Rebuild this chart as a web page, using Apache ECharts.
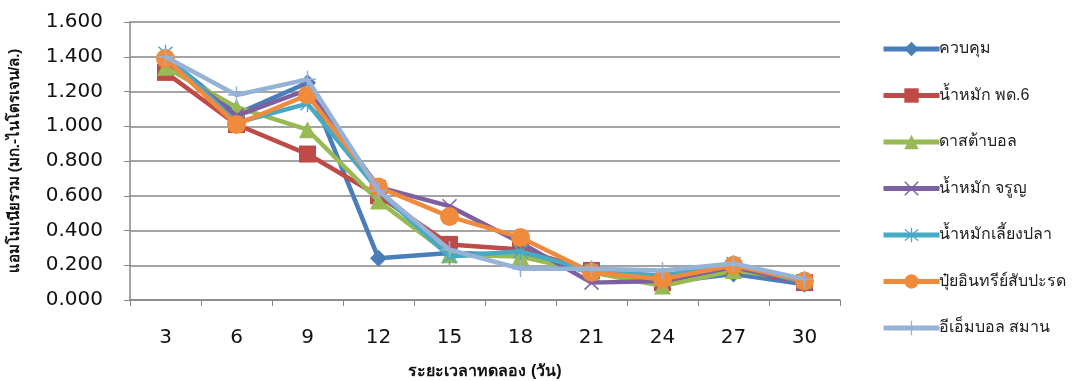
<!DOCTYPE html>
<html>
<head>
<meta charset="utf-8">
<script src="https://cdn.jsdelivr.net/npm/echarts@6/dist/echarts.min.js"></script>
<style>
  html, body { margin: 0; padding: 0; background: #fff; }
  #chart { width: 1073px; height: 381px; }
</style>
</head>
<body>
<div id="chart"></div>
<script>
// Days of the trial
const days = ['3', '6', '9', '12', '15', '18', '21', '24', '27', '30'];

// Total ammonia (mg N/L) per treatment
const control      = [1.40, 1.07, 1.25, 0.24, 0.27, 0.26, 0.16, 0.10, 0.15, 0.09];
const ldd6         = [1.31, 1.01, 0.84, 0.60, 0.32, 0.29, 0.17, 0.10, 0.18, 0.10];
const dastaball    = [1.34, 1.11, 0.98, 0.57, 0.26, 0.25, 0.16, 0.08, 0.17, 0.12];
const jaroon       = [1.38, 1.06, 1.21, 0.65, 0.54, 0.33, 0.10, 0.11, 0.19, 0.10];
const fishFerment  = [1.42, 1.02, 1.13, 0.63, 0.25, 0.28, 0.17, 0.14, 0.21, 0.10];
const pineapple    = [1.39, 1.01, 1.18, 0.65, 0.48, 0.36, 0.16, 0.12, 0.20, 0.11];
const emBall       = [1.40, 1.18, 1.27, 0.63, 0.29, 0.18, 0.18, 0.17, 0.21, 0.12];

const seriesNames = ['ควบคุม', 'น้ำหมัก พด.6', 'ดาสต้าบอล', 'น้ำหมัก จรูญ', 'น้ำหมักเลี้ยงปลา', 'ปุ๋ยอินทรีย์สับปะรด', 'อีเอ็มบอล สมาน'];
const yTicks = ['0.000', '0.200', '0.400', '0.600', '0.800', '1.000', '1.200', '1.400', '1.600'];

const colors = ['#4A7EBB', '#BE4B48', '#98B954', '#7D60A0', '#46AAC5', '#F08A3C', '#95B3D7'];

// Stroke-like marker shapes built from thin filled bars
const crossPath = 'path://M-10,-8.6 L-8.6,-10 L10,8.6 L8.6,10Z M10,-8.6 L8.6,-10 L-10,8.6 L-8.6,10Z';
const starPath  = 'path://M-10,-8.6 L-8.6,-10 L10,8.6 L8.6,10Z M10,-8.6 L8.6,-10 L-10,8.6 L-8.6,10Z M-0.9,-12 L0.9,-12 L0.9,12 L-0.9,12Z';
const plusPath  = 'path://M-0.9,-10 L0.9,-10 L0.9,10 L-0.9,10Z M-10,-0.9 L10,-0.9 L10,0.9 L-10,0.9Z';

const markers = [
  { symbol: 'diamond',  size: 17 },
  { symbol: 'rect',     size: 17 },
  { symbol: 'triangle', size: 17 },
  { symbol: crossPath,  size: 15 },
  { symbol: starPath,   size: [15, 17] },
  { symbol: 'circle',   size: 19 },
  { symbol: plusPath,   size: 17 }
];

const values = [control, ldd6, dastaball, jaroon, fishFerment, pineapple, emBall];

const chart = echarts.init(document.getElementById('chart'), null, { renderer: 'canvas' });

const series = values.map((v, i) => ({
  name: seriesNames[i],
  type: 'line',
  data: v,
  symbol: markers[i].symbol,
  symbolSize: markers[i].size,
  showAllSymbol: true,
  lineStyle: { color: colors[i], width: 4.5 },
  itemStyle: { color: colors[i] },
  emphasis: { disabled: true },
  animation: false,
  z: 2 + i
}));

const numFont = '"DejaVu Sans", sans-serif';

chart.setOption({
  animation: false,
  color: colors,
  grid: { left: 130, right: 233, top: 22, bottom: 81, outerBoundsMode: 'none', containLabel: false },
  legend: {
    orient: 'vertical',
    left: 876,
    top: 36,
    itemWidth: 56,
    itemHeight: 18,
    itemGap: 30.5,
    lineStyle: { width: 5 },
    textStyle: { fontSize: 16, color: '#222', fontFamily: 'sans-serif', padding: [0, 0, 0, -6] },
    data: seriesNames
  },
  xAxis: {
    type: 'category',
    data: days,
    boundaryGap: true,
    name: 'ระยะเวลาทดลอง (วัน)',
    nameLocation: 'middle',
    nameGap: 64,
    nameTextStyle: { fontSize: 16, fontWeight: 'bold', color: '#111' },
    axisLine: { lineStyle: { color: '#868686', width: 1.5 } },
    axisTick: { show: true, alignWithLabel: false, length: 6, lineStyle: { color: '#868686' } },
    axisLabel: { fontSize: 20, color: '#111', margin: 28, fontFamily: numFont }
  },
  yAxis: {
    type: 'value',
    min: 0,
    max: 1.6,
    interval: 0.2,
    name: 'แอมโมเนียรวม (มก.-ไนโตรเจน/ล.)',
    nameLocation: 'middle',
    nameGap: 108,
    nameRotate: 90,
    nameTextStyle: { fontSize: 15, fontWeight: 'bold', color: '#111' },
    axisLine: { show: true, lineStyle: { color: '#868686', width: 1.5 } },
    axisTick: { show: true, inside: false, length: 6, lineStyle: { color: '#868686' } },
    splitLine: { lineStyle: { color: '#868686', width: 1.5 } },
    axisLabel: {
      fontSize: 20,
      color: '#111',
      margin: 27,
      fontFamily: numFont,
      formatter: (val) => yTicks[Math.round(val / 0.2)]
    }
  },
  series: series
});
</script>
</body>
</html>
